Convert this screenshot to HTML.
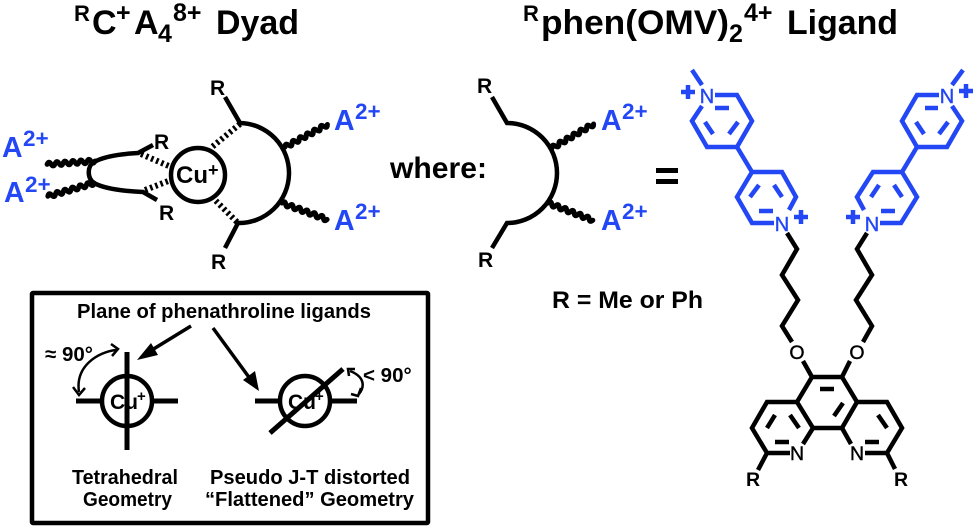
<!DOCTYPE html>
<html><head><meta charset="utf-8"><style>
html,body{margin:0;padding:0;background:#fff}
svg{display:block}
text{font-family:"Liberation Sans",sans-serif;font-weight:bold;fill:#000}
.b{fill:#2347f5}
.n{fill:none;stroke:#000;stroke-width:4.5}
.bl{fill:none;stroke:#2347f5;stroke-width:4.5}
.w{fill:none;stroke:#000;stroke-width:5;stroke-linecap:round}
.d{fill:none;stroke:#000;stroke-width:6;stroke-dasharray:2.5 3}
.t{font-size:34px}.s{font-size:25px}
.a{font-size:28.5px}.a2{font-size:22.5px}
.r{font-size:21px}.rn{font-size:19.5px;font-weight:normal;text-anchor:middle;stroke:#000;stroke-width:.4}
.rb{font-size:20px;font-weight:normal;fill:#2347f5;stroke:#2347f5;stroke-width:.4;text-anchor:middle}
.lb{font-size:20px}
</style></head><body>
<svg width="975" height="528" viewBox="0 0 975 528" xmlns="http://www.w3.org/2000/svg">
<defs><path id="wv" d="M0 0q2-4 4 0t4 0 4 0 4 0 4 0 4 0 4 0 4 0 4 0 4 0 4 0 4 0"/></defs>

<!-- titles -->
<text x="74" y="21" style="font-size:22px">R</text>
<text x="92" y="34" class="t">C</text>
<text x="116" y="21" class="s">+</text>
<text x="134" y="34" class="t">A</text>
<text x="158" y="42" class="s">4</text>
<text x="173" y="21" class="s">8+</text>
<text x="216" y="34" class="t" textLength="83" lengthAdjust="spacingAndGlyphs">Dyad</text>
<text x="523" y="21" style="font-size:22px">R</text>
<text x="541" y="34" class="t" textLength="188" lengthAdjust="spacingAndGlyphs">phen(OMV)</text>
<text x="729" y="42" class="s">2</text>
<text x="744" y="21" class="s">4+</text>
<text x="787" y="34" class="t" textLength="111" lengthAdjust="spacingAndGlyphs">Ligand</text>

<!-- dyad -->
<circle cx="198" cy="175" r="27" class="n"/>
<text x="176" y="183" style="font-size:24px">Cu</text>
<text x="208" y="176" style="font-size:18px">+</text>
<path class="n" d="M225 97L240 123A50 50 0 0 1 238 223L225 248"/>
<path class="d" d="M240 124L212 147M237 222L214 199"/>
<path class="n" d="M153 145L138 153C118 154 103 157 94 162C87 166 87 178 94 183C103 188 120 191 143 192L157 200"/>
<path class="d" d="M141 154L171 167M145 190L171 180"/>
<use href="#wv" class="w" transform="translate(285 147) rotate(-28)"/>
<use href="#wv" class="w" transform="translate(282 203) rotate(20)"/>
<use href="#wv" class="w" transform="translate(95 161) rotate(176)"/>
<use href="#wv" class="w" transform="translate(94 183) rotate(164)"/>
<text x="210" y="95" class="r">R</text>
<text x="211" y="269" class="r">R</text>
<text x="154" y="149" class="r">R</text>
<text x="159" y="220" class="r">R</text>
<text x="2" y="157" class="a b">A</text><text x="23" y="146" class="a2 b">2+</text>
<text x="4" y="202" class="a b">A</text><text x="25" y="192" class="a2 b">2+</text>
<text x="334" y="130" class="a b">A</text><text x="355" y="119" class="a2 b">2+</text>
<text x="334" y="230" class="a b">A</text><text x="355" y="219" class="a2 b">2+</text>

<!-- where -->
<text x="390" y="178" style="font-size:30px" textLength="97" lengthAdjust="spacingAndGlyphs">where:</text>
<path class="n" d="M492 97L507 123A50 50 0 0 1 507 223L492 248"/>
<use href="#wv" class="w" transform="translate(552 148) rotate(-30)"/>
<use href="#wv" class="w" transform="translate(548 203) rotate(21)"/>
<text x="477" y="93" class="r">R</text>
<text x="478" y="267" class="r">R</text>
<text x="601" y="130" class="a b">A</text><text x="622" y="119" class="a2 b">2+</text>
<text x="601" y="230" class="a b">A</text><text x="622" y="219" class="a2 b">2+</text>
<rect x="656" y="168" width="22" height="5"/><rect x="656" y="179" width="22" height="5"/>
<text x="552" y="308" style="font-size:24.5px" textLength="151" lengthAdjust="spacingAndGlyphs">R = Me or Ph</text>

<!-- box -->
<rect x="32" y="293" width="396" height="230" rx="1" fill="none" stroke="#000" stroke-width="4.5"/>
<text x="77" y="318" class="lb" textLength="294" lengthAdjust="spacingAndGlyphs">Plane of phenathroline ligands</text>
<text x="110" y="409" style="font-size:21px">Cu</text><text x="137" y="401" style="font-size:15px">+</text>
<text x="288" y="409" style="font-size:21px">Cu</text><text x="315" y="401" style="font-size:15px">+</text>
<circle cx="127" cy="401" r="25" class="n"/>
<circle cx="305" cy="401" r="25" class="n"/>
<path d="M127 352V450M76 401H102M152 401H178M255 401H278M332 401H357M270 433L343 369" fill="none" stroke="#000" stroke-width="5"/>
<path d="M191 326L147 353M213 328L251 380" fill="none" stroke="#000" stroke-width="3.5"/>
<polygon points="137,360 151,343 158,355"/>
<polygon points="259,391 243,380 255,371"/>
<path d="M116 350C98 352 75 366 79 392" fill="none" stroke="#000" stroke-width="2.5"/>
<path d="M111 344L118 349L112 356M73 387L79 395L85 388" fill="none" stroke="#000" stroke-width="2.5"/>
<path d="M350 371C363 376 366 385 359 394" fill="none" stroke="#000" stroke-width="2.5"/>
<path d="M349 376L348 369L355 369M351 394L358 396L361 388" fill="none" stroke="#000" stroke-width="2.5"/>
<text x="45" y="361" style="font-size:20.5px">≈ 90°</text>
<text x="363" y="382" style="font-size:20.5px">&lt; 90°</text>
<text x="72" y="484" class="lb" textLength="106" lengthAdjust="spacingAndGlyphs">Tetrahedral</text>
<text x="83" y="506" class="lb" textLength="89" lengthAdjust="spacingAndGlyphs">Geometry</text>
<text x="210" y="484" class="lb" textLength="200" lengthAdjust="spacingAndGlyphs">Pseudo J-T distorted</text>
<text x="205" y="506" class="lb" textLength="209" lengthAdjust="spacingAndGlyphs">“Flattened” Geometry</text>

<!-- blue rings -->
<g class="bl">
<path d="M702 85L692 70M715 95H737L752 121L737 147H707L692 121L702 106"/>
<path d="M715 108H729M705 122L713 134M738 122L729 134M737 147L752 172"/>
<path d="M774 223H752L737 197L752 172H782L796 197L789 210"/>
<path d="M750 197L759 185M774 185L782 197M759 211H773"/>
<path d="M952 85L963 70M939 95H917L902 121L917 147H947L962 121L952 106"/>
<path d="M925 108H938M916 122L924 134M948 122L939 134M917 147L902 172"/>
<path d="M880 223H901L917 197L902 172H873L857 197L864 210"/>
<path d="M879 185L871 197M894 185L902 197M881 211H895"/>
</g>
<text x="707" y="103" class="rb">N</text>
<text x="947" y="103" class="rb">N</text>
<text x="782" y="231" class="rb">N</text>
<text x="872" y="231" class="rb">N</text>
<path d="M688 85V99M681 92H695M966 84V98M959 91H973M801 210V224M794 217H808M853 210V224M846 217H860" fill="none" stroke="#2347f5" stroke-width="4.5"/>

<!-- chains and phenanthroline -->
<g class="n">
<path d="M787 233L797 249L782 275L798 300L782 326L792 342M867 233L857 249L872 275L856 300L872 326L863 342"/>
<path d="M803 361L812 377H842L850 361M797 402L812 377M842 377L857 402L842 428H813L797 402"/>
<path d="M797 402H767L752 428L767 453H790M803 444L813 428"/>
<path d="M857 402H887L902 428L887 453H865M851 444L842 428"/>
<path d="M767 453L758 470M887 453L895 469"/>
<path d="M820 389H834M834 416L843 403M767 428L775 415M790 415L799 428M775 442H789M878 415L887 428M865 442H879"/>
</g>
<text x="797" y="359" class="rn">O</text>
<text x="857" y="359" class="rn">O</text>
<text x="797" y="460" class="rn">N</text>
<text x="857" y="460" class="rn">N</text>
<text x="753" y="486" class="rn" style="font-weight:bold;stroke:none">R</text>
<text x="901" y="486" class="rn" style="font-weight:bold;stroke:none">R</text>
</svg>
</body></html>
